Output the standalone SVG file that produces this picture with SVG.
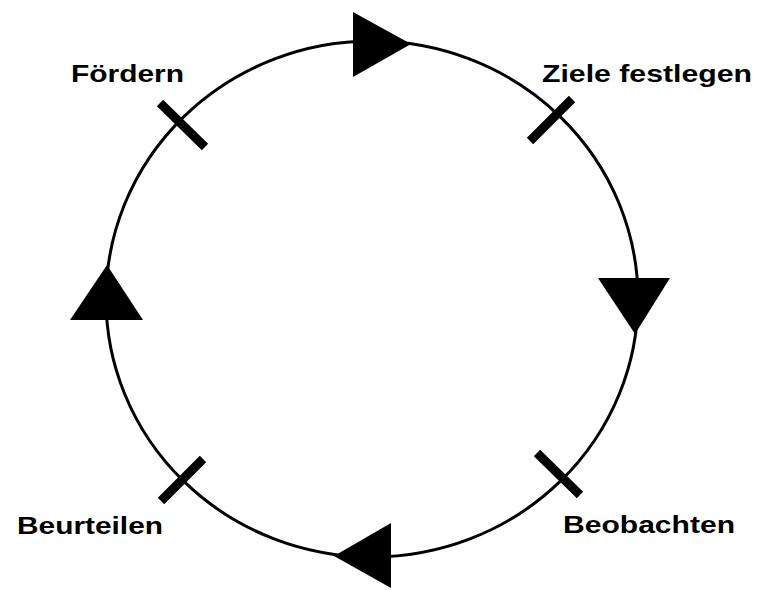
<svg xmlns="http://www.w3.org/2000/svg" width="757" height="590" viewBox="0 0 757 590">
<style>
.lbl{font-family:"Liberation Sans",Arial,sans-serif;font-weight:bold;font-size:24px;fill:#000}
.tick{stroke:#000;stroke-width:9;stroke-linecap:butt}
.ring{fill:none;stroke:#000;stroke-width:3}
.arr{fill:#000}
</style>
<rect width="757" height="590" fill="#fff"/>
<g id="connectors">
<ellipse class="ring" cx="372" cy="299" rx="266" ry="258"/>
<polygon class="arr" points="353,12 353,77 411,44"/>
<polygon class="arr" points="598,278 670,278 635,334"/>
<polygon class="arr" points="391,523 391,588 334,556"/>
<polygon class="arr" points="70,320 143,320 107,265"/>
</g>
<g id="node-foerdern">
<line class="tick" x1="160" y1="103" x2="205" y2="147"/>
<text class="lbl" x="71" y="82" textLength="113" lengthAdjust="spacingAndGlyphs">Fördern</text>
</g>
<g id="node-ziele">
<line class="tick" x1="572" y1="99" x2="530" y2="141"/>
<text class="lbl" x="542" y="82" textLength="210" lengthAdjust="spacingAndGlyphs">Ziele festlegen</text>
</g>
<g id="node-beobachten">
<line class="tick" x1="537" y1="453" x2="580" y2="495"/>
<text class="lbl" x="563" y="533" textLength="172" lengthAdjust="spacingAndGlyphs">Beobachten</text>
</g>
<g id="node-beurteilen">
<line class="tick" x1="203" y1="459" x2="161" y2="501"/>
<text class="lbl" x="17" y="534" textLength="146" lengthAdjust="spacingAndGlyphs">Beurteilen</text>
</g>
</svg>
